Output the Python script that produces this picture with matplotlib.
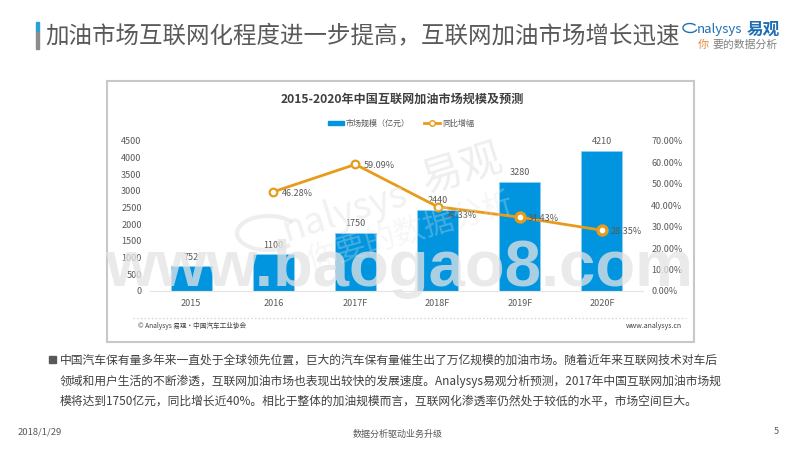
import matplotlib
matplotlib.use("Agg")
import matplotlib.pyplot as plt
from matplotlib.patches import Rectangle, Arc
from matplotlib.lines import Line2D
import numpy as np

plt.rcParams['font.family'] = ['Noto Sans CJK SC', 'DejaVu Sans']

years = ['2015', '2016', '2017F', '2018F', '2019F', '2020F']
market = [752, 1100, 1750, 2440, 3280, 4210]
growth = [np.nan, 46.28, 59.09, 39.33, 34.43, 28.35]
growth_labels = ['', '46.28%', '59.09%', '39.33%', '34.43%', '28.35%']
left_ticks = [0, 500, 1000, 1500, 2000, 2500, 3000, 3500, 4000, 4500]
right_ticks = [0, 10, 20, 30, 40, 50, 60, 70]

slide_title = '加油市场互联网化程度进一步提高，互联网加油市场增长迅速'
chart_title = '2015-2020年中国互联网加油市场规模及预测'
body_lines = [
    '中国汽车保有量多年来一直处于全球领先位置，巨大的汽车保有量催生出了万亿规模的加油市场。随着近年来互联网技术对车后',
    '领域和用户生活的不断渗透，互联网加油市场也表现出较快的发展速度。Analysys易观分析预测，2017年中国互联网加油市场规',
    '模将达到1750亿元，同比增长近40%。相比于整体的加油规模而言，互联网化渗透率仍然处于较低的水平，市场空间巨大。',
]

BLUE = '#0095de'
ORANGE = '#e69c1a'
GREY = '#595959'

W, H = 800, 450
def fx(x):
    return x / W
def fy(y):
    return 1 - y / H

fig = plt.figure(figsize=(8, 4.5), dpi=100, facecolor='white')

# slide header
fig.add_artist(Rectangle((fx(36), fy(32)), 3 / W, 10 / H, color='#2a9fd8', zorder=-1))
fig.add_artist(Rectangle((fx(36), fy(49)), 3 / W, 17 / H, color='#8c8c8c', zorder=-1))
fig.text(fx(45), fy(36), slide_title, fontsize=16.9, color=GREY, va='center', ha='left')

# logo
fig.text(fx(697), fy(30), 'nalysys', fontsize=9.5, color='#1f6fb5', style='italic', va='center', ha='left')
fig.text(fx(747), fy(30), '易观', fontsize=12, color='#1f6fb5', weight='bold', va='center', ha='left')
fig.text(fx(698), fy(45), '你', fontsize=8, color='#e08a3c', va='center', ha='left')
fig.text(fx(712), fy(45), '要的数据分析', fontsize=7.8, color='#808080', va='center', ha='left')
fig.add_artist(Arc((fx(690), fy(28)), 14 / W, 9 / H, angle=10, theta1=30, theta2=330,
                   color='#1f6fb5', lw=1, transform=fig.transFigure))

# chart card
fig.add_artist(Rectangle((fx(107), fy(342)), 587 / W, 261 / H, facecolor='white',
                         edgecolor='#c8c8c8', lw=1.5, zorder=-1))
fig.text(fx(402), fy(99), chart_title, fontsize=8.7, weight='bold', color='#404040', va='center', ha='center')

# axes
ax = fig.add_axes([fx(150), fy(291), 493 / W, 150 / H])
ax.patch.set_alpha(0)
x = np.arange(len(years))
bars = ax.bar(x, market, width=0.5, color=BLUE, edgecolor='#8fd0f0', linewidth=0.6)
ax.set_xlim(-0.5, 5.5)
ax.set_ylim(0, 4500)
ax.set_xticks(x)
ax.set_xticklabels(years)
ax.set_yticks(left_ticks)
ax.tick_params(axis='x', length=0, labelsize=6.5, labelcolor=GREY, pad=6)
ax.tick_params(axis='y', length=0, labelsize=6.5, labelcolor=GREY, pad=6)
for s in ['top', 'left', 'right']:
    ax.spines[s].set_visible(False)
ax.spines['bottom'].set_color('#e4e4e4')
for xi, v in zip(x, market):
    ax.annotate(str(v), (xi, v), xytext=(0, 3), textcoords='offset points', ha='center', va='bottom',
                fontsize=6.5, color=GREY)

ax2 = ax.twinx()
ax2.patch.set_alpha(0)
ax2.plot(x, growth, color=ORANGE, lw=2, marker='o', ms=5.5, mfc='white', mec=ORANGE, mew=1.6)
ax2.plot(x[4:], growth[4:], color=ORANGE, lw=0, marker='o', ms=6.5, mfc='white', mec=ORANGE, mew=2.4)
ax2.set_ylim(0, 70)
ax2.set_yticks(right_ticks)
ax2.set_yticklabels(['%.2f%%' % t for t in right_ticks])
ax2.tick_params(axis='y', length=0, labelsize=6.5, labelcolor=GREY, pad=6)
for s in ['top', 'left', 'right', 'bottom']:
    ax2.spines[s].set_visible(False)
for i, (xi, v, t) in enumerate(zip(x, growth, growth_labels)):
    if t:
        # the 2018F label sits below the line in the original
        dy = -6 if i == 3 else -1
        ax2.annotate(t, (xi, v), xytext=(6, dy), textcoords='offset points', ha='left', va='center',
                     fontsize=6.5, color=GREY)

# legend
fig.add_artist(Rectangle((fx(328), fy(125)), 16 / W, 4 / H, color=BLUE))
fig.text(fx(346), fy(123), '市场规模（亿元）', fontsize=5.8, color=GREY, va='center', ha='left')
fig.add_artist(Line2D([fx(424), fx(440)], [fy(123), fy(123)], color=ORANGE, lw=2,
                      transform=fig.transFigure, zorder=1))
fig.add_artist(Line2D([fx(432)], [fy(123)], color=ORANGE, marker='o', ms=4, mfc='white', mec=ORANGE,
                      transform=fig.transFigure, zorder=2))
fig.text(fx(442), fy(123), '同比增幅', fontsize=5.8, color=GREY, va='center', ha='left')

# card footer
fig.add_artist(Line2D([fx(133), fx(686)], [fy(318), fy(318)], color='#d4d4d4', lw=1, ls=':',
                      transform=fig.transFigure))
fig.text(fx(138), fy(326), '© Analysys 易观·中国汽车工业协会', fontsize=4.8, color='#404040', va='center', ha='left')
fig.text(fx(682), fy(326), 'www.analysys.cn', fontsize=5, color='#404040', va='center', ha='right')

# body text
fig.add_artist(Rectangle((fx(49), fy(363)), 7 / W, 7 / H, color='#595959'))
for y, line in zip([360, 381, 401], body_lines):
    fig.text(fx(60), fy(y), line, fontsize=8.5, color='#404040', va='center', ha='left')

# slide footer
fig.text(fx(18), fy(432), '2018/1/29', fontsize=6.8, color=GREY, va='center', ha='left')
fig.text(fx(398), fy(434), '数据分析驱动业务升级', fontsize=6.5, color=GREY, va='center', ha='center')
fig.text(fx(776), fy(432), '5', fontsize=6.5, color=GREY, va='center', ha='center')

# watermarks
wm = dict(color='#e4e4e4', va='center', ha='center', zorder=10)
fig.add_artist(Arc((fx(268), fy(233)), 62 / W, 34 / H, angle=17, theta1=20, theta2=300,
                   color='#e4e4e4', alpha=0.6, lw=3, transform=fig.transFigure, zorder=10))
fig.text(fx(345), fy(212), 'nalysys', fontsize=27, style='italic', rotation=17, alpha=0.5, **wm)
fig.text(fx(462), fy(170), '易观', fontsize=30, rotation=17, alpha=0.6, **wm)
fig.text(fx(410), fy(232), '你要的数据分析', fontsize=22, rotation=16, alpha=0.3, **wm)
fig.text(fx(399), fy(286), 'www.baogao8.com', fontsize=47, weight='bold', family='Liberation Sans',
         color='#e4e4e4', alpha=0.75, va='baseline', ha='center', zorder=11)

fig.savefig('out.png', dpi=100)
